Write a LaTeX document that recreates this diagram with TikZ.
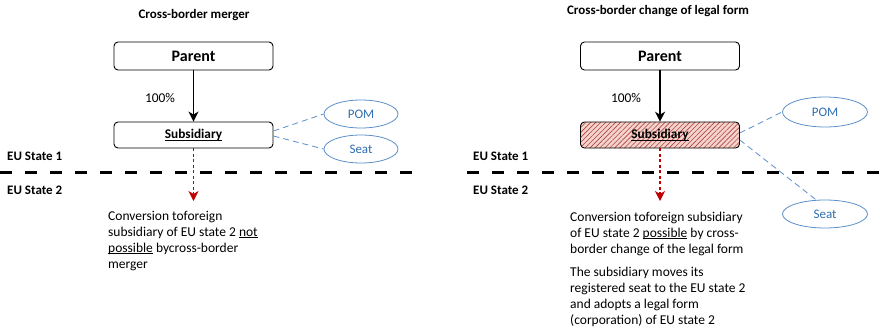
\documentclass[tikz,border=0pt]{standalone}
\usepackage{fontspec}
\setmainfont{Carlito}
\newcommand\ulx[1]{\setbox0\hbox{#1}\rlap{\rule[-1.6pt]{\wd0}{0.7pt}}\box0\relax}
\usetikzlibrary{shapes.geometric,arrows.meta,patterns.meta,calc}
\definecolor{ublue}{HTML}{5B8FC9}
\definecolor{utext}{HTML}{2E6EB0}
\definecolor{ured}{HTML}{C00000}
\definecolor{hatchc}{HTML}{B0413E}
\definecolor{hatchbg}{HTML}{F4D3CC}
\begin{document}
\begin{tikzpicture}[x=1pt,y=-1pt,
  box/.style={draw,rounded corners=4pt,line width=0.9pt,minimum width=159pt,inner sep=0pt},
  oval/.style={draw=ublue,ellipse,line width=0.8pt,minimum width=74pt,minimum height=28pt,inner sep=0pt,text=utext,font=\fontsize{13}{15}\selectfont},
  link/.style={draw=ublue,dashed,dash pattern=on 6pt off 4pt,line width=0.8pt},
  own/.style={draw,line width=1.2pt,-{Stealth[length=10pt,width=10pt,inset=3pt]}},
  move/.style={draw=ured,line width=1.1pt,dash pattern=on 3pt off 2.5pt,-{Stealth[length=10pt,width=10pt,inset=3pt]}},
  border/.style={line width=3pt,dash pattern=on 12pt off 13pt},
  lbl/.style={font=\fontsize{13.4}{15}\selectfont,inner sep=0pt},
  blbl/.style={font=\fontsize{13}{15}\selectfont\bfseries,inner sep=0pt},
  para/.style={font=\fontsize{13.5}{16}\selectfont,inner sep=0pt,align=left,anchor=north west},
  hatched/.style={preaction={fill=hatchbg},pattern={Lines[angle=45,distance=3.5pt,line width=0.6pt]},pattern color=hatchc}]
\useasboundingbox (0,0) rectangle (880,332);

% ---------- left panel ----------
\node[blbl] (t1) at (194,15) {Cross-border merger};
\node[box,minimum height=28pt,font=\fontsize{16}{18}\selectfont\bfseries] (p1) at (193.5,56) {Parent};
\node[box,minimum height=26pt,font=\fontsize{13.3}{15}\selectfont\bfseries] (s1) at (193.5,135) {\ulx{Subsidiary}};
\node[lbl] (pc1) at (160,98) {100\%};
\node[oval] (pom1) at (361,114) {POM};
\node[oval] (seat1) at (361,149) {Seat};
\draw[link] ($(s1.east)+(0,-4)$) -- (pom1.west);
\draw[link] ($(s1.east)+(0,1)$) -- (seat1.west);
\draw[own] (p1.south) -- (s1.north);
\node[blbl,anchor=west] (e11) at (7,156) {EU State 1};
\node[blbl,anchor=west] (e12) at (7,190) {EU State 2};
\coordinate (b1a) at (0,172);
\coordinate (b1b) at (418,172);
\draw[border] (b1a) -- (b1b);
\coordinate (r1) at (193.5,201);
\draw[move] (s1.south) -- (r1);
\node[para] (x1) at (108,211) {Conversion toforeign\\subsidiary of EU state 2 \ulx{not}\\\ulx{possible} bycross-border\\merger};

% ---------- right panel ----------
\node[blbl] (t2) at (658,11) {Cross-border change of legal form};
\node[box,minimum height=28pt,font=\fontsize{16}{18}\selectfont\bfseries] (p2) at (660,56) {Parent};
\node[box,minimum height=26pt,hatched,font=\fontsize{13.3}{15}\selectfont\bfseries] (s2) at (660,135) {\ulx{Subsidiary}};
\node[lbl] (pc2) at (626,98) {100\%};
\node[oval,minimum width=85pt,minimum height=30pt] (pom2) at (825,112) {POM};
\node[oval,minimum width=85pt,minimum height=28pt] (seat2) at (825,214) {Seat};
\draw[link] ($(s2.east)+(0,-2)$) -- (pom2.west);
\draw[link] ($(s2.east)+(0,5)$) -- (seat2.122);
\draw[own] (p2.south) -- (s2.north);
\node[blbl,anchor=west] (e21) at (473,156) {EU State 1};
\node[blbl,anchor=west] (e22) at (473,190) {EU State 2};
\coordinate (b2a) at (467,172);
\coordinate (b2b) at (880,172);
\draw[border] (b2a) -- (b2b);
\coordinate (r2) at (660,201);
\draw[move] (s2.south) -- (r2);
\node[para] (x2) at (570,212) {Conversion toforeign subsidiary\\of EU state 2 \ulx{possible} by cross-\\border change of the legal form};
\node[para] (x3) at (570,267) {The subsidiary moves its\\registered seat to the EU state 2\\and adopts a legal form\\(corporation) of EU state 2};
\end{tikzpicture}
\end{document}
